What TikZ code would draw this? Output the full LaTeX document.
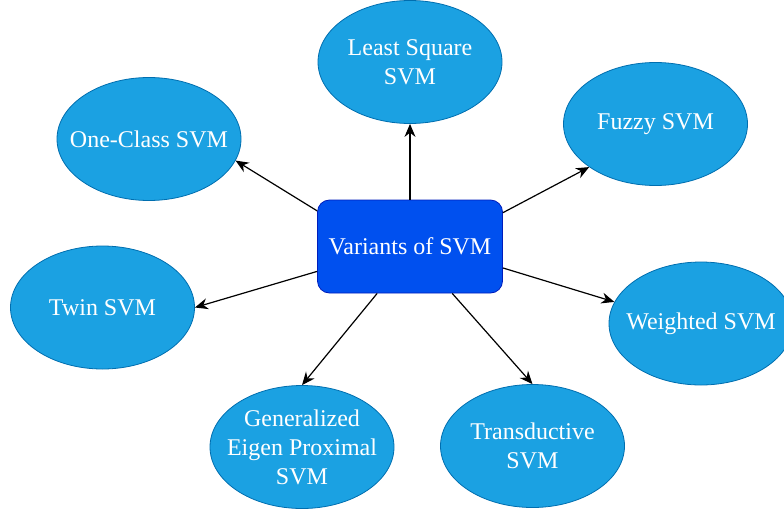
\documentclass[tikz,border=0pt]{standalone}
\usepackage{fontspec}
\setmainfont{Liberation Serif}
\usepackage{tikz}
\usetikzlibrary{shapes.geometric,arrows.meta}
\definecolor{ellfill}{HTML}{1BA1E2}
\definecolor{elldraw}{HTML}{006EAF}
\definecolor{boxfill}{HTML}{0050EF}
\definecolor{boxdraw}{HTML}{001DBC}

\begin{document}
\begin{tikzpicture}[x=1pt,y=-1pt,
    variant/.style={ellipse, fill=ellfill, draw=elldraw, line width=0.8pt,
      minimum width=184pt, minimum height=123pt, inner sep=-14pt,
      text=white, align=center, font=\fontsize{24}{29}\selectfont},
    root/.style={rectangle, rounded corners=12pt, fill=boxfill, draw=boxdraw,
      line width=0.8pt, minimum width=185pt, minimum height=93pt,
      text=white, font=\fontsize{24}{29}\selectfont},
    arr/.style={-{Stealth[length=13pt,width=11pt]}, line width=1.2pt}]
            \useasboundingbox (0,0) rectangle (784,509);
            \node[root] (SVM) at (410,246.5) {Variants of SVM};
            \node[variant] (LS) at (410,62) {Least Square\\SVM};
            \node[variant] (OC) at (149,139) {One-Class SVM};
            \node[variant] (FZ) at (655.5,124) {Fuzzy SVM};
            \node[variant] (TW) at (102.5,307.5) {Twin SVM};
            \node[variant] (WT) at (701,323.5) {Weighted SVM};
            \node[variant] (GEP) at (302,447) {Generalized\\Eigen Proximal\\SVM};
            \node[variant] (TR) at (532.5,446) {Transductive\\SVM};
            \path[arr] (SVM.north) edge (LS.south);
            \path[arr] (SVM.159.6) edge (OC.-14.8);
            \path[arr] (SVM.-165.8) edge (TW.east);
            \path[arr] (SVM.20) edge (FZ.-147.1);
            \path[arr] (SVM.-13.7) edge (WT.166.3);
            \path[arr] (SVM.-125.4) edge (GEP.north);
            \path[arr] (SVM.-48.6) edge (TR.north);
        \end{tikzpicture}
\end{document}
